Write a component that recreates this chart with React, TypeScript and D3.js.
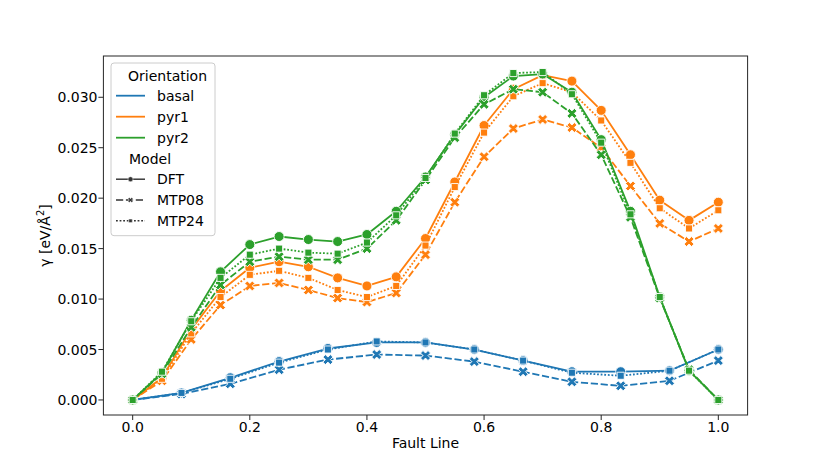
import React from "react";
import * as d3 from "d3";

// ---------- data ----------
const xFine: number[] = [0, 0.05, 0.1, 0.15, 0.2, 0.25, 0.3, 0.35, 0.4, 0.45, 0.5, 0.55, 0.6, 0.65, 0.7, 0.75, 0.8, 0.85, 0.9, 0.95, 1.0];
const xBasal: number[] = [0, 1 / 12, 2 / 12, 3 / 12, 4 / 12, 5 / 12, 6 / 12, 7 / 12, 8 / 12, 9 / 12, 10 / 12, 11 / 12, 1];

const basalDFT = [0, 0.0007, 0.0022, 0.0038, 0.0051, 0.0057, 0.0057, 0.005, 0.0039, 0.0028, 0.0028, 0.0029, 0.005];
const basalMTP08 = [0, 0.0006, 0.0016, 0.003, 0.004, 0.0045, 0.0044, 0.0038, 0.0028, 0.0018, 0.0014, 0.0019, 0.0039];
const basalMTP24 = [0, 0.0007, 0.0021, 0.0037, 0.005, 0.0058, 0.0057, 0.005, 0.0039, 0.0027, 0.0024, 0.0029, 0.005];

const pyr1DFT = [0, 0.0022, 0.007, 0.0108, 0.0131, 0.0137, 0.0132, 0.0121, 0.0113, 0.0122, 0.016, 0.0216, 0.0272, 0.0308, 0.0322, 0.0316, 0.0287, 0.0243, 0.0198, 0.0178, 0.0196];
const pyr1MTP08 = [0, 0.0019, 0.006, 0.0094, 0.0113, 0.0116, 0.0109, 0.0101, 0.0097, 0.0106, 0.0144, 0.0196, 0.0241, 0.0269, 0.0278, 0.027, 0.025, 0.0212, 0.0175, 0.0157, 0.017];
const pyr1MTP24 = [0, 0.0021, 0.0066, 0.0102, 0.0124, 0.0128, 0.0121, 0.0109, 0.0102, 0.0113, 0.0153, 0.0211, 0.0265, 0.0301, 0.0314, 0.0305, 0.0277, 0.0235, 0.019, 0.017, 0.0188];

const pyr2DFT = [0, 0.0027, 0.0079, 0.0127, 0.0154, 0.0162, 0.0159, 0.0157, 0.0164, 0.0187, 0.0221, 0.0263, 0.03, 0.0321, 0.0323, 0.0305, 0.0258, 0.0187, 0.0102, 0.0029, 0];
const pyr2MTP08 = [0, 0.0026, 0.0072, 0.0114, 0.0137, 0.0142, 0.0139, 0.0139, 0.015, 0.0178, 0.0218, 0.026, 0.0293, 0.0308, 0.0305, 0.0284, 0.0243, 0.0181, 0.0101, 0.003, 0];
const pyr2MTP24 = [0, 0.0028, 0.0078, 0.0121, 0.0144, 0.015, 0.0146, 0.0145, 0.0156, 0.0183, 0.022, 0.0264, 0.0302, 0.0324, 0.0325, 0.0303, 0.0255, 0.0184, 0.0102, 0.0029, 0];

const orientations = ["basal", "pyr1", "pyr2"];
const models = ["DFT", "MTP08", "MTP24"];
const xTicks = [0, 0.2, 0.4, 0.6, 0.8, 1.0];
const yTicks = [0, 0.005, 0.01, 0.015, 0.02, 0.025, 0.03];

const seriesTable: Record<string, { x: number[]; ys: number[][] }> = {
  basal: { x: xBasal, ys: [basalDFT, basalMTP08, basalMTP24] },
  pyr1: { x: xFine, ys: [pyr1DFT, pyr1MTP08, pyr1MTP24] },
  pyr2: { x: xFine, ys: [pyr2DFT, pyr2MTP08, pyr2MTP24] },
};

// ---------- style ----------
const colors: Record<string, string> = { basal: "#1f77b4", pyr1: "#ff7f0e", pyr2: "#2ca02c" };
const LW = 1.8;
const dashes = ["", `${4 * LW},${1.5 * LW}`, `${1 * LW},${1 * LW}`];
const FONT = "DejaVu Sans, sans-serif";
const FS = 14;

function markerPath(kind: number, s: number): string {
  if (kind === 0) {
    const r = s / 2;
    return `M${r},0A${r},${r} 0 1,1 ${-r},0A${r},${r} 0 1,1 ${r},0Z`;
  }
  if (kind === 1) {
    const f = s / 4;
    const pts = [[-1, -2], [0, -1], [1, -2], [2, -1], [1, 0], [2, 1], [1, 2], [0, 1], [-1, 2], [-2, 1], [-1, 0], [-2, -1]];
    return "M" + pts.map(([a, b]) => `${a * f},${b * f}`).join("L") + "Z";
  }
  const h = s / (2 * Math.SQRT2);
  return `M${-h},${-h}L${h},${-h}L${h},${h}L${-h},${h}Z`;
}

export default function App() {
  const W = 830, H = 467;
  const left = 103.4, right = 747.6, top = 56, bottom = 415;
  const x = d3.scaleLinear().domain([-0.05, 1.05]).range([left, right]);
  const y = d3.scaleLinear().domain([-0.00149, 0.03409]).range([bottom, top]);
  const fmtY = d3.format(".3f");
  const fmtX = d3.format(".1f");
  const MS = 10;

  const groups: React.ReactNode[] = [];
  orientations.forEach((o) => {
    const s = seriesTable[o];
    s.ys.forEach((vals, mi) => {
      const pts: [number, number][] = vals.map((v, i) => [s.x[i], v]);
      const line = d3.line<[number, number]>().x((d) => x(d[0])).y((d) => y(d[1]));
      const mp = markerPath(mi, MS);
      groups.push(
        <g key={o + mi}>
          <path d={line(pts) || ""} fill="none" stroke={colors[o]} strokeWidth={LW} strokeDasharray={dashes[mi] || undefined} strokeLinejoin="round" />
          {pts.map((p, i) => (
            <path key={i} d={mp} transform={`translate(${x(p[0])},${y(p[1])})`} fill={colors[o]} stroke="#fff" strokeWidth={0.9} />
          ))}
        </g>
      );
    });
  });

  // legend
  const lgX = 111, lgY = 63, lgW = 104, lgH = 172.7;
  const rowY = [75.5, 95.7, 116.7, 137.7, 158.5, 179.2, 200, 220.8];
  const hx0 = 116, hx1 = 145, tx = 157;

  return (
    <svg width={W} height={H} style={{ position: "absolute", left: 0, top: 0 }} fontFamily={FONT}>
      <rect x={0} y={0} width={W} height={H} fill="#fff" />
      {groups}
      {/* frame */}
      <rect x={left} y={top} width={right - left} height={bottom - top} fill="none" stroke="#262626" strokeWidth={1} />
      {/* x ticks */}
      {xTicks.map((t) => (
        <g key={"xt" + t}>
          <line x1={x(t)} x2={x(t)} y1={bottom} y2={bottom + 5} stroke="#262626" strokeWidth={1} />
          <text x={x(t)} y={432} textAnchor="middle" fontSize={FS} fill="#000">{fmtX(t)}</text>
        </g>
      ))}
      {/* y ticks */}
      {yTicks.map((t) => (
        <g key={"yt" + t}>
          <line x1={left - 5} x2={left} y1={y(t)} y2={y(t)} stroke="#262626" strokeWidth={1} />
          <text x={97.5} y={y(t)} dy="0.36em" textAnchor="end" fontSize={FS} fill="#000">{fmtY(t)}</text>
        </g>
      ))}
      <text x={(left + right) / 2} y={448} textAnchor="middle" fontSize={FS} fill="#000">Fault Line</text>
      <text transform={`translate(50,${(top + bottom) / 2}) rotate(-90)`} textAnchor="middle" fontSize={FS} fill="#000">
        γ [eV/Å<tspan dy="-6" fontSize={10}>2</tspan><tspan dy="6">]</tspan>
      </text>
      {/* legend */}
      <rect x={lgX} y={lgY} width={lgW} height={lgH} rx={3} fill="#fff" fillOpacity={0.8} stroke="#cccccc" strokeWidth={1} />
      <text x={128} y={rowY[0] + 5.2} fontSize={FS} fill="#000">Orientation</text>
      {orientations.map((o, i) => (
        <g key={"lo" + o}>
          <line x1={hx0} x2={hx1} y1={rowY[i + 1]} y2={rowY[i + 1]} stroke={colors[o]} strokeWidth={LW} />
          <text x={tx} y={rowY[i + 1] + 5.2} fontSize={FS} fill="#000">{o}</text>
        </g>
      ))}
      <text x={129} y={rowY[4] + 5.2} fontSize={FS} fill="#000">Model</text>
      {models.map((m, i) => (
        <g key={"lm" + m}>
          <line x1={hx0} x2={hx1} y1={rowY[i + 5]} y2={rowY[i + 5]} stroke="#333" strokeWidth={LW * 0.8} strokeDasharray={dashes[i] || undefined} />
          <path d={markerPath(i, 5)} transform={`translate(${(hx0 + hx1) / 2},${rowY[i + 5]})`} fill="#333" stroke="#fff" strokeWidth={0.5} />
          <text x={tx} y={rowY[i + 5] + 5.2} fontSize={FS} fill="#000">{m}</text>
        </g>
      ))}
    </svg>
  );
}
